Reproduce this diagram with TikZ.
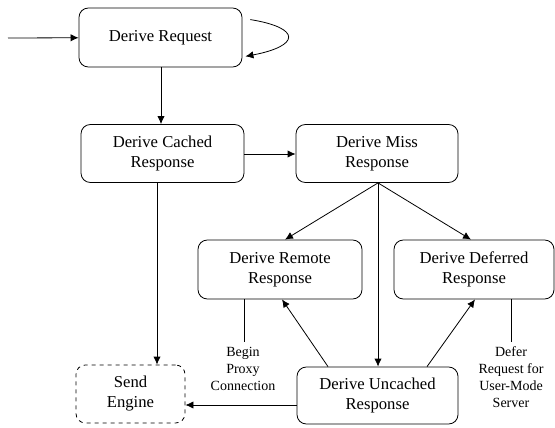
\documentclass[tikz,border=0pt]{standalone}
\usepackage{fontspec}
\setmainfont{Liberation Serif}
\usetikzlibrary{arrows.meta}

\begin{document}
\begin{tikzpicture}[x=0.75pt,y=-0.75pt,>={Latex[length=6pt,width=5.5pt]},line width=0.6pt,
		state/.style={draw,rounded corners=7pt,align=center,inner sep=0pt,
			font=\rmfamily\fontsize{12.5}{15}\selectfont},
		note/.style={align=center,font=\rmfamily\fontsize{10.5}{12.8}\selectfont}]
		\useasboundingbox (0,0) rectangle (555,427);
		% States
		\node[state,minimum width=122.25pt,minimum height=44.25pt] (req) at (160.5,37.5) {Derive Request};
		\node[state,minimum width=122.25pt,minimum height=43.5pt] (cached) at (162.5,153.5) {Derive Cached\\Response};
		\node[state,minimum width=121.5pt,minimum height=43.5pt] (miss) at (377,153.5) {Derive Miss\\Response};
		\node[state,minimum width=123pt,minimum height=44.25pt] (remote) at (280,269.5) {Derive Remote\\Response};
		\node[state,minimum width=120pt,minimum height=44.25pt] (deferred) at (474,269.5) {Derive Deferred\\Response};
		\node[state,minimum width=120.75pt,minimum height=42.75pt] (uncached) at (377.5,395.5) {Derive Uncached\\Response};
		\node[state,dashed,minimum width=81.75pt,minimum height=43.5pt] (send) at (130.5,394) {Send\\Engine};
		% Entry and self loop
		\coordinate (entry) at (8,38);
		\draw[->] (entry) -- (req);
		\draw[->] ([shift={(8,12)}]req.north east) .. controls (302,28) and (300,46) .. ([shift={(3,-11)}]req.south east);
		% Transitions
		\draw[->] (req.south -| 161,0) -- (cached.north -| 161,0);
		\draw[->] (cached.east |- 0,154) -- (miss.west |- 0,154);
		\draw[->] (miss.south -| 378,0) -- (remote.north -| 285,0);
		\draw[->] (miss.south -| 378,0) -- (deferred.north -| 471,0);
		\draw[->] (miss.south -| 378,0) -- (uncached.north -| 378,0);
		\draw[->] (uncached.north -| 328,0) -- (remote.south -| 282,0);
		\draw[->] (uncached.north -| 427,0) -- (deferred.south -| 475,0);
		\draw[->] (cached.south -| 157,0) -- (send.north -| 157,0);
		\draw[->] (uncached.west |- 0,405) -- (send.east |- 0,405);
		% Notes
		\node[note,anchor=north] (proxy) at (243,342) {Begin\\Proxy\\Connection};
		\node[note,anchor=north] (defer) at (511,342) {Defer\\Request for\\User-Mode\\Server};
		\draw (remote.south -| 244,0) -- (proxy.north -| 244,0);
		\draw (deferred.south -| 511,0) -- (defer.north -| 511,0);
	\end{tikzpicture}
\end{document}
